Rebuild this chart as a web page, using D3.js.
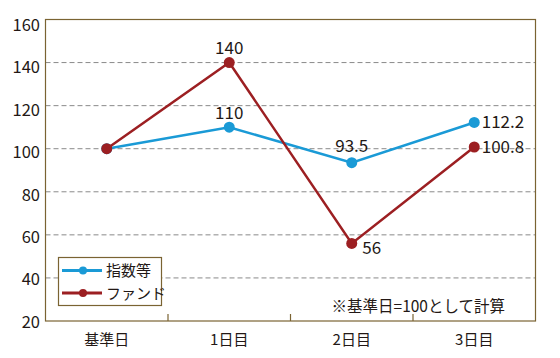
<!DOCTYPE html>
<html><head><meta charset="utf-8">
<script src="https://cdn.jsdelivr.net/npm/d3@7"></script>
<style>
html,body{margin:0;padding:0;background:#fff;}
text{font-family:"Noto Sans CJK JP","Noto Sans",sans-serif;fill:#231815;}
</style></head>
<body><svg id="c" width="560" height="358"></svg>
<script>
const categories = ["基準日","1日目","2日目","3日目"];
const indexValues = [100,110,93.5,112.2];
const fundValues = [100,140,56,100.8];
const seriesNames = ["指数等","ファンド"];
const yTicks = [20,40,60,80,100,120,140,160];
const indexLabels = ["", "110", "93.5", "112.2"];
const fundLabels = ["", "140", "56", "100.8"];
const note = "※基準日=100として計算";

const W=560,H=358;
const m={l:45.5,r:24.5,t:19.5,b:37};
const svg=d3.select("#c");
const x=d3.scaleBand().domain(categories).range([m.l,W-m.r]);
const y=d3.scaleLinear().domain([20,160]).range([H-m.b,m.t]);
// tick labels sit slightly tighter than the gridlines in the reference
const yl=d3.scaleLinear().domain([20,160]).range([H-m.b+0.7,m.t+5.5]);
const frameC="#7a6332";
const blue="#1a9ad6", red="#9c1f22";

// gridlines
svg.append("g").selectAll("line").data(yTicks.filter(v=>v>20&&v<160)).join("line")
 .attr("x1",m.l).attr("x2",W-m.r).attr("y1",d=>y(d)).attr("y2",d=>y(d))
 .attr("stroke","#8a8a8a").attr("stroke-width",1).attr("stroke-dasharray","5,3");

// frame
svg.append("rect").attr("x",m.l).attr("y",m.t).attr("width",W-m.l-m.r).attr("height",H-m.t-m.b)
 .attr("fill","none").attr("stroke",frameC).attr("stroke-width",1.2);

// y axis labels
svg.append("g").selectAll("text").data(yTicks).join("text")
 .attr("x",40).attr("y",d=>yl(d)+6).attr("text-anchor","end").attr("font-size",16.5)
 .text(d=>d3.format("d")(d));

// x axis
const xa=svg.append("g").attr("transform",`translate(0,${H-m.b})`)
 .call(d3.axisBottom(x).tickSize(0).tickPadding(13));
xa.select(".domain").remove();
xa.selectAll("text").attr("font-size",15).attr("font-family","Noto Sans CJK JP").attr("fill","#231815");
// separator ticks
svg.append("g").selectAll("line").data(categories.slice(1)).join("line")
 .attr("x1",d=>x(d)).attr("x2",d=>x(d)).attr("y1",H-m.b).attr("y2",H-m.b-7)
 .attr("stroke",frameC).attr("stroke-width",1.2);

const cx=d=>x(d)+x.bandwidth()/2;
const line=d3.line().x((d,i)=>cx(categories[i])).y(d=>y(d));
function series(vals,col){
  svg.append("path").datum(vals).attr("d",line).attr("fill","none").attr("stroke",col).attr("stroke-width",2.5);
  svg.append("g").selectAll("circle").data(vals).join("circle")
   .attr("cx",(d,i)=>cx(categories[i])).attr("cy",d=>y(d)).attr("r",5.5).attr("fill",col);
}
series(indexValues,blue);
series(fundValues,red);

// data labels
const lab=svg.append("g").attr("font-size",17);
const lp=[
 {t:fundLabels[1],x:cx(categories[1]),y:y(fundValues[1])-8.5,a:"middle"},
 {t:indexLabels[1],x:cx(categories[1]),y:y(indexValues[1])-8.5,a:"middle"},
 {t:indexLabels[2],x:cx(categories[2]),y:y(indexValues[2])-10.5,a:"middle"},
 {t:fundLabels[2],x:cx(categories[2])+10.5,y:y(fundValues[2])+10.5,a:"start"},
 {t:indexLabels[3],x:cx(categories[3])+7.5,y:y(indexValues[3])+5.8,a:"start"},
 {t:fundLabels[3],x:cx(categories[3])+7.5,y:y(fundValues[3])+6,a:"start"}
];
lab.selectAll("text").data(lp).join("text").attr("x",d=>d.x).attr("y",d=>d.y)
 .attr("text-anchor",d=>d.a).text(d=>d.t);

// note
svg.append("text").attr("x",505).attr("y",311.5).attr("text-anchor","end")
 .attr("font-size",15.5).text(note);

// legend
const lg=svg.append("g");
lg.append("rect").attr("x",58.5).attr("y",257.5).attr("width",103).attr("height",48)
 .attr("fill","#fff").attr("stroke",frameC).attr("stroke-width",1.2);
[blue,red].forEach((c,i)=>{
  const yy=270.5+i*22.5;
  lg.append("line").attr("x1",62).attr("x2",102).attr("y1",yy).attr("y2",yy).attr("stroke",c).attr("stroke-width",3);
  lg.append("circle").attr("cx",83).attr("cy",yy).attr("r",4).attr("fill",c);
  lg.append("text").attr("x",106).attr("y",yy+5.5).attr("font-size",15).text(seriesNames[i]);
});
</script></body></html>
